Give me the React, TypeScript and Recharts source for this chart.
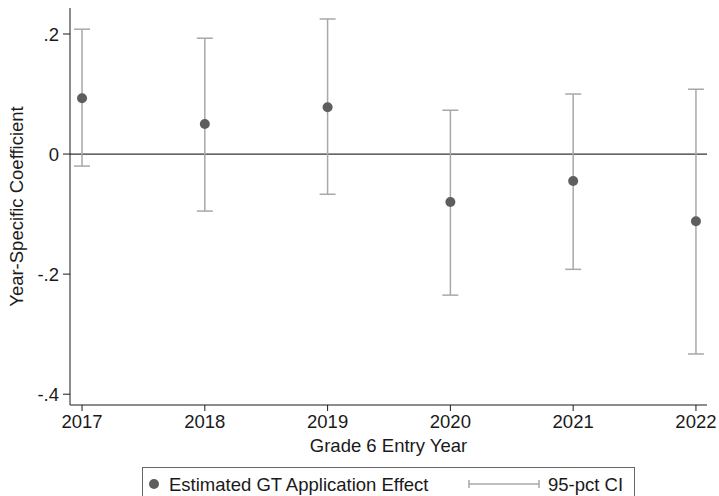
import {
    ComposedChart,
    Scatter,
    ErrorBar,
    XAxis,
    YAxis,
    ReferenceLine,
} from "recharts";

const years = [2017, 2018, 2019, 2020, 2021, 2022];
const estimates = [0.093, 0.05, 0.078, -0.08, -0.045, -0.112];
const ciLow = [-0.02, -0.095, -0.067, -0.235, -0.192, -0.333];
const ciHigh = [0.208, 0.193, 0.225, 0.073, 0.1, 0.108];
const yTicks = [-0.4, -0.2, 0, 0.2];

const data = years.map((year, i) => ({
    year,
    est: estimates[i],
    err: [estimates[i] - ciLow[i], ciHigh[i] - estimates[i]],
}));

const FONT = "'Liberation Sans', Arial, Helvetica, sans-serif";
const FS = 18.5;
const POINT = "#5e5e5e";
const CI = "#a8a8a8";
const AXIS = "#1a1a1a";

const fmtY = (v: number) => (v === 0 ? "0" : v.toFixed(1).replace("0.", "."));

const tickStyle = { fill: AXIS, fontSize: FS, fontFamily: FONT };

function Dot(props: any) {
    return <circle cx={props.cx} cy={props.cy} r={5} fill={POINT} />;
}

export default function App() {
    return (
        <div style={{ position: "absolute", left: 0, top: 0, width: 719, height: 496, background: "#fff", overflow: "hidden" }}>
            <ComposedChart
                width={719}
                height={496}
                data={data}
                margin={{ top: 8, right: 12, left: 0, bottom: 44 }}
            >
                <XAxis
                    dataKey="year"
                    type="number"
                    domain={[2016.902, 2022.09]}
                    ticks={years}
                    tick={tickStyle}
                    tickSize={6}
                    tickMargin={4}
                    height={47}
                    stroke={AXIS}
                    tickLine={{ stroke: AXIS }}
                    allowDataOverflow
                    label={{ value: "Grade 6 Entry Year", position: "insideBottom", offset: 0, style: { fill: AXIS, fontSize: FS, fontFamily: FONT } }}
                />
                <XAxis xAxisId="top" orientation="top" type="number" domain={[2016.902, 2022.09]} height={0} tick={false} tickLine={false} stroke={AXIS} />
                <YAxis
                    type="number"
                    domain={[-0.418, 0.2433]}
                    ticks={yTicks}
                    tickFormatter={fmtY}
                    tick={tickStyle}
                    tickSize={7}
                    tickMargin={4}
                    width={70}
                    stroke={AXIS}
                    tickLine={{ stroke: AXIS }}
                    allowDataOverflow
                    label={{ value: "Year-Specific Coefficient", angle: -90, position: "insideLeft", offset: 16, style: { fill: AXIS, fontSize: FS, fontFamily: FONT, textAnchor: "middle" } }}
                />
                <YAxis yAxisId="right" orientation="right" type="number" domain={[-0.418, 0.2433]} width={0} tick={false} tickLine={false} stroke={AXIS} />
                <ReferenceLine y={0} stroke="#333" strokeWidth={1.3} />
                <Scatter dataKey="est" name="Estimated GT Application Effect" shape={<Dot />} isAnimationActive={false}>
                    <ErrorBar dataKey="err" direction="y" width={8} stroke={CI} strokeWidth={1.5} isAnimationActive={false} />
                </Scatter>
            </ComposedChart>
            <div
                style={{
                    position: "absolute",
                    left: 142,
                    top: 467,
                    width: 493,
                    height: 40,
                    border: "1.5px solid #666",
                    boxSizing: "border-box",
                }}
            >
                <svg width={493} height={30} style={{ position: "absolute", left: 0, top: 0 }}>
                    <circle cx={11} cy={16} r={5} fill={POINT} />
                    <text x={26} y={22.5} fontSize={FS} fontFamily={FONT} fill={AXIS}>Estimated GT Application Effect</text>
                    <line x1={326} x2={396} y1={16} y2={16} stroke={CI} strokeWidth={1.5} />
                    <line x1={326} x2={326} y1={12} y2={20} stroke={CI} strokeWidth={1.5} />
                    <line x1={396} x2={396} y1={12} y2={20} stroke={CI} strokeWidth={1.5} />
                    <text x={405} y={22.5} fontSize={FS} fontFamily={FONT} fill={AXIS}>95-pct CI</text>
                </svg>
            </div>
        </div>
    );
}
